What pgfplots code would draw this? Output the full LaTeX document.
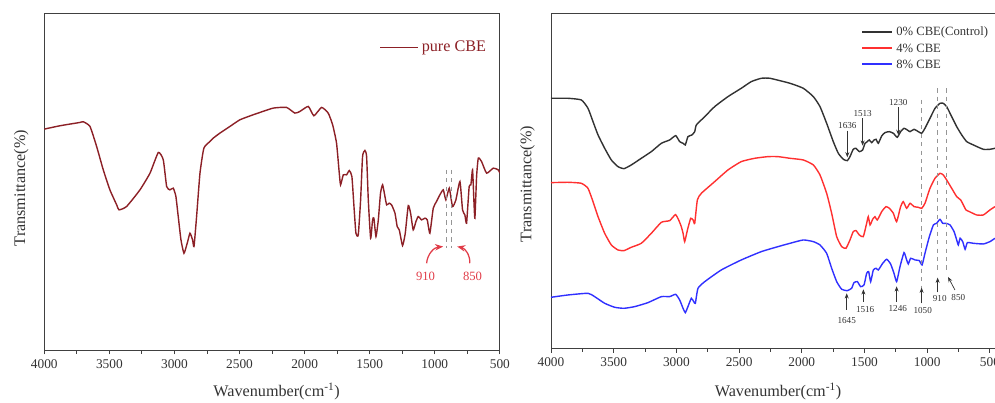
\documentclass[border=0pt]{standalone}
\usepackage{fontspec}
\setmainfont{Liberation Serif}
\usepackage{pgfplots}
\pgfplotsset{compat=1.18}
\usetikzlibrary{arrows.meta}
\definecolor{cbe}{RGB}{140,32,38}
\definecolor{cz}{RGB}{50,50,50}
\definecolor{cf}{RGB}{255,48,48}
\definecolor{ce}{RGB}{48,48,255}
\definecolor{annred}{RGB}{225,60,72}
\definecolor{dgray}{RGB}{150,150,150}

\pgfplotsset{ftir/.style={
  scale only axis, x dir=reverse, xmax=4000, ymin=0,
  ytick=\empty, xtick={500,1000,...,4000}, minor x tick num=1,
  scaled x ticks=false,
  tick align=outside, xtick pos=left,
  major tick length=1.1mm, minor tick length=0.9mm,
  axis line style={line width=0.7pt, black!75},
  every tick/.style={line width=0.7pt, black!75},
  tick label style={font=\fontsize{9.5}{11}\selectfont, text=black!80},
  /pgf/number format/assume math mode=true,
  /pgf/number format/1000 sep={},
  label style={font=\fontsize{11.5}{13}\selectfont, text=black!80},
  xlabel={Wavenumber(cm\textsuperscript{-1})},
  ylabel={Transmittance(\%)},
  every axis plot/.append style={line width=1pt, smooth, tension=0.3},
}}

\begin{document}
\begin{tikzpicture}
\path[use as bounding box] (0,0) rectangle (24.875cm,10.075cm);

% ---------------- left panel ----------------
\begin{axis}[ftir,
  at={(1.1075cm,1.325cm)}, anchor=south west,
  width=11.39cm, height=8.425cm,
  xmin=500, ymax=101,
  xlabel style={at={(axis description cs:0.51,-0.124)}, anchor=center},
  ylabel style={at={(axis description cs:-0.0505,0.48)}, anchor=center},
]
\addplot[cbe] coordinates {
(4000,66.2) (3880,67.2) (3726,68.2) (3700,68.4) (3649,67.0) (3598,61.0)
(3547,54.0) (3496,48.0) (3444,43.5) (3426,42.0) (3368,43.0) (3265,48.0)
(3188,53.0) (3124,59.2) (3086,57.0) (3060,49.0) (3035,48.0) (3009,48.5)
(2989,46.0) (2971,40.0) (2950,33.0) (2927,29.0) (2902,32.0) (2881,35.0)
(2861,33.0) (2850,31.0) (2830,40.0) (2804,53.0) (2774,60.5) (2727,62.5)
(2702,63.5) (2651,65.0) (2574,67.0) (2497,69.0) (2395,70.5) (2343,71.2)
(2241,72.5) (2139,72.7) (2075,71.0) (2036,71.5) (1972,73.0) (1929,70.2)
(1870,72.7) (1819,71.0) (1785,67.5) (1755,62.0) (1734,53.0) (1724,49.5)
(1703,52.5) (1678,52.5) (1657,53.8) (1637,52.0) (1621,43.0) (1606,35.0)
(1588,34.5) (1570,45.0) (1555,58.0) (1537,59.8) (1524,58.0) (1511,45.0)
(1493,33.5) (1478,39.0) (1468,39.5) (1452,34.0) (1434,39.0) (1417,47.0)
(1401,49.5) (1383,46.0) (1370,43.5) (1350,44.0) (1332,43.5) (1306,41.0)
(1289,37.0) (1273,36.0) (1248,31.3) (1227,35.0) (1204,43.3) (1186,41.0)
(1166,36.0) (1145,38.5) (1127,40.0) (1102,39.0) (1076,39.5) (1058,39.0)
(1038,35.0) (1012,42.5) (987,44.5) (961,46.5) (935,48.0) (915,45.0)
(889,48.5) (864,43.0) (838,45.0) (807,50.5) (787,42.0) (769,40.5)
(756,38.0) (736,49.0) (723,49.5) (710,54.0) (700,45.0) (692,39.5)
(679,52.0) (666,57.5) (641,56.5) (602,53.0) (551,54.5) (513,54.0) (500,53.0)
};
% legend
\draw[cbe, line width=1pt] (axis description cs:0.737,0.897) -- (axis description cs:0.8207,0.897);
\node[anchor=west, inner sep=0pt, text=cbe, font=\fontsize{11.5}{13}\selectfont] at (axis description cs:0.828,0.897) {pure CBE};
% guides
\draw[dgray, line width=1pt, dash pattern=on 3pt off 3pt] (axis cs:910,54) -- (axis cs:910,30.5);
\draw[dgray, line width=1pt, dash pattern=on 3pt off 3pt] (axis cs:870,54) -- (axis cs:870,30.5);
\draw[annred, line width=0.9pt, -{Stealth[length=2mm,width=1.6mm]}] (axis cs:1063,26) to[bend left=40] (axis cs:936,31);
\draw[annred, line width=0.9pt, -{Stealth[length=2mm,width=1.6mm]}] (axis cs:731,26) to[bend right=40] (axis cs:828,31);
\node[annred, font=\fontsize{9}{10}\selectfont] at (axis cs:1071,22) {910};
\node[annred, font=\fontsize{9}{10}\selectfont] at (axis cs:710,22) {850};
\end{axis}

% ---------------- right panel ----------------
\begin{axis}[ftir,
  at={(13.775cm,1.3675cm)}, anchor=south west,
  width=11.13cm, height=8.375cm,
  xmin=450, ymax=100.5,
  xlabel style={at={(axis description cs:0.51,-0.1296)}, anchor=center},
  ylabel style={at={(axis description cs:-0.0528,0.49)}, anchor=center},
]
\addplot[cz] coordinates {
(4000,75) (3864,75) (3758,74.5) (3705,72) (3665,68) (3625,64) (3572,60)
(3519,56.5) (3466,54.5) (3418,53.9) (3360,55) (3280,57) (3200,59)
(3120,61.5) (3054,62.5) (3006,63.8) (2974,62) (2947,61.5) (2929,61)
(2908,63.5) (2876,64) (2854,65) (2841,67) (2774,69.5) (2695,72.5)
(2589,75.5) (2483,78) (2403,80) (2323,81) (2254,81) (2094,79.5) (1988,78)
(1908,75.5) (1855,72.5) (1802,67.5) (1749,62) (1709,58.5) (1669,56.7)
(1637,56.3) (1616,57.5) (1590,59.7) (1568,60) (1541,59) (1515,59.5)
(1496,61.5) (1478,62) (1462,62.5) (1443,61.7) (1424,62.5) (1408,62.7)
(1390,61.5) (1363,63.7) (1337,64.7) (1302,65) (1270,64.5) (1239,63.3)
(1212,65) (1185,66) (1159,65.5) (1137,65) (1105,65.7) (1071,65)
(1044,64.5) (1018,66) (978,69) (938,72) (898,73.5) (872,73.5) (845,72.5)
(805,69.5) (765,66.5) (725,64) (685,62) (632,61) (553,59.7) (500,59.7) (460,60)
};
\addplot[cf] coordinates {
(4000,49.7) (3864,49.8) (3758,49.5) (3705,48) (3665,44) (3625,39.5)
(3572,34.5) (3519,31) (3466,29.5) (3418,29.3) (3360,30.3) (3280,31.5)
(3200,34.5) (3120,37.8) (3054,38.3) (3008,40.1) (2982,38.5) (2961,36.5)
(2947,34.5) (2934,32) (2912,35.5) (2886,39) (2867,38.5) (2854,37.5)
(2833,44.5) (2801,46.5) (2695,50) (2589,53.5) (2483,56) (2376,57)
(2270,57.5) (2190,57.5) (2094,57) (1988,56.5) (1908,55) (1855,52)
(1802,46.5) (1762,40.5) (1722,33.5) (1682,30.5) (1648,30) (1616,32.5)
(1590,35) (1568,35.3) (1541,34) (1510,33.5) (1483,37.5) (1470,39.5)
(1456,37) (1435,38.7) (1417,39.5) (1398,38.5) (1363,41) (1329,42.5)
(1302,42) (1270,40.5) (1244,38) (1212,42.5) (1191,44) (1164,42)
(1137,43.5) (1105,42.5) (1071,42.3) (1044,42) (1018,43.5) (978,48)
(938,51) (898,52.5) (872,52) (845,50.5) (805,48) (765,45.5) (733,44.5)
(712,43) (691,41.5) (664,41) (606,40) (553,40) (500,41.5) (460,42.5)
};
\addplot[ce] coordinates {
(4000,15.3) (3864,16) (3705,16.5) (3652,15.5) (3572,13.5) (3492,12.3)
(3418,12) (3333,12.5) (3227,13.7) (3120,15.5) (3054,15.5) (3006,16.2)
(2974,14.5) (2947,12) (2929,10.7) (2908,12.5) (2881,15) (2862,14)
(2849,13.5) (2828,18) (2774,20) (2642,23.5) (2483,26.5) (2323,29)
(2190,30.5) (2094,31.5) (1988,32.5) (1908,32) (1855,31) (1802,28.5)
(1762,24) (1722,20) (1682,17.7) (1637,17.3) (1603,18) (1584,19.7)
(1557,20) (1531,18.5) (1504,19) (1483,22.5) (1467,23) (1451,20)
(1430,23.5) (1408,24) (1390,23.5) (1355,25.5) (1323,26.7) (1292,25.3)
(1265,22.5) (1244,20) (1217,24.5) (1185,28.7) (1164,26.5) (1151,25.3)
(1132,27) (1097,26.5) (1063,26.3) (1041,25) (1018,28.5) (983,33.5)
(951,37) (925,37.5) (898,38.7) (877,37.5) (850,37.5) (818,37) (786,35)
(765,32.5) (752,31) (738,33) (717,32) (698,29.7) (680,31.7) (632,31.5)
(553,31.3) (500,32) (460,33)
};
% legend
\draw[cz, line width=1pt] (axis description cs:0.6986,0.944) -- (axis description cs:0.766,0.944);
\draw[cf, line width=1pt] (axis description cs:0.6986,0.896) -- (axis description cs:0.766,0.896);
\draw[ce, line width=1pt] (axis description cs:0.6986,0.849) -- (axis description cs:0.766,0.849);
\node[anchor=west, inner sep=0pt, text=black!80, font=\fontsize{9}{10}\selectfont] at (axis description cs:0.775,0.944) {0\% CBE(Control)};
\node[anchor=west, inner sep=0pt, text=black!80, font=\fontsize{9}{10}\selectfont] at (axis description cs:0.775,0.896) {4\% CBE};
\node[anchor=west, inner sep=0pt, text=black!80, font=\fontsize{9}{10}\selectfont] at (axis description cs:0.775,0.849) {8\% CBE};
% dashed guide lines
\draw[dgray, line width=1pt, dash pattern=on 3pt off 3pt] (axis cs:1045,74.5) -- (axis cs:1045,16.5);
\draw[dgray, line width=1pt, dash pattern=on 3pt off 3pt] (axis cs:917,78) -- (axis cs:917,22.5);
\draw[dgray, line width=1pt, dash pattern=on 3pt off 3pt] (axis cs:845,78) -- (axis cs:845,22.5);
% annotations
\tikzset{ann/.style={black!80, line width=0.5pt, -{Stealth[length=1.3mm,width=1mm]}},
         annt/.style={black!80, font=\fontsize{6.5}{7}\selectfont, inner sep=0.5pt}}
\draw[ann] (axis cs:1637,65.3) -- (axis cs:1637,57.3);
\node[annt] at (axis cs:1637,66.8) {1636};
\draw[ann] (axis cs:1515,69) -- (axis cs:1515,60.8);
\node[annt] at (axis cs:1515,70.4) {1513};
\draw[ann] (axis cs:1231,72.3) -- (axis cs:1231,64);
\node[annt] at (axis cs:1231,73.8) {1230};
\draw[ann] (axis cs:1642,11.5) -- (axis cs:1642,16.5);
\node[annt] at (axis cs:1642,8.3) {1645};
\draw[ann] (axis cs:1509,14) -- (axis cs:1509,17.7);
\node[annt] at (axis cs:1495,11.7) {1516};
\draw[ann] (axis cs:1244,14) -- (axis cs:1244,18.6);
\node[annt] at (axis cs:1235,11.9) {1246};
\draw[ann] (axis cs:1045,13.5) -- (axis cs:1045,18.2);
\node[annt] at (axis cs:1036,11.2) {1050};
\draw[ann] (axis cs:917,16.8) -- (axis cs:917,21.2);
\node[annt] at (axis cs:900,15) {910};
\draw[ann] (axis cs:779,17.5) -- (axis cs:834,21.4);
\node[annt] at (axis cs:752,15.2) {850};
\end{axis}
\end{tikzpicture}
\end{document}
